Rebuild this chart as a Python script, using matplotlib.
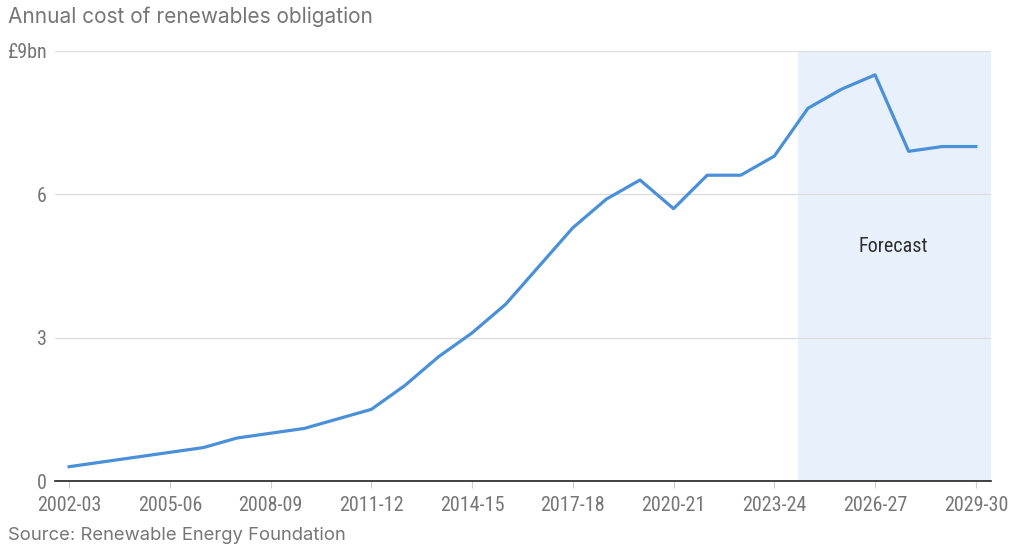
import matplotlib.pyplot as plt

years = ["2002-03", "2003-04", "2004-05", "2005-06", "2006-07", "2007-08", "2008-09",
         "2009-10", "2010-11", "2011-12", "2012-13", "2013-14", "2014-15", "2015-16",
         "2016-17", "2017-18", "2018-19", "2019-20", "2020-21", "2021-22", "2022-23",
         "2023-24", "2024-25", "2025-26", "2026-27", "2027-28", "2028-29", "2029-30"]
cost = [0.3, 0.4, 0.5, 0.6, 0.7, 0.9, 1.0, 1.1, 1.3, 1.5, 2.0, 2.6, 3.1, 3.7,
        4.5, 5.3, 5.9, 6.3, 5.7, 6.4, 6.4, 6.8, 7.8, 8.2, 8.5, 6.9, 7.0, 7.0]
yticks = [0, 3, 6, 9]
yticklabels = ["0", "3", "6", "£9bn"]
forecast_start = 21.7

narrow = ["Roboto Condensed", "DejaVu Sans"]
sans = ["Inter", "DejaVu Sans"]
grey = "#767676"

fig = plt.figure(figsize=(10.24, 5.59), dpi=100)
ax = fig.add_axes([0.0537, 0.1395, 0.914, 0.7693])
x = list(range(len(years)))

# forecast band
ax.axvspan(forecast_start, 27.45, color="#e8f1fb", zorder=0, lw=0)
ax.text(24.55, 4.9, "Forecast", family=narrow, fontsize=14.5, color="#2e2e2e",
        ha="center", va="center")

ax.plot(x, cost, color="#4a90d9", lw=2.3, zorder=3)

ax.set_xlim(-0.42, 27.45)
ax.set_ylim(0, 9)
ax.set_yticks(yticks)
ax.set_yticklabels(yticklabels)
ax.set_xticks(x[::3])
ax.set_xticklabels(years[::3])
ax.grid(axis="y", color="#dddddd", lw=1)
ax.set_axisbelow(True)
for s in ["top", "right", "left"]:
    ax.spines[s].set_visible(False)
ax.spines["bottom"].set_color("#222222")
ax.spines["bottom"].set_linewidth(1.2)
ax.tick_params(axis="y", length=0, pad=6, labelsize=14.5, labelcolor=grey)
ax.tick_params(axis="x", length=5, color="#cccccc", pad=6, labelsize=14.5, labelcolor=grey)
for lab in ax.get_xticklabels() + ax.get_yticklabels():
    lab.set_family(narrow)

fig.text(0.008, 0.97, "Annual cost of renewables obligation", fontsize=15,
         family=sans, color=grey, va="center", ha="left")
fig.text(0.008, 0.042, "Source: Renewable Energy Foundation", fontsize=13.3,
         family=sans, color=grey, va="center", ha="left")

fig.savefig("out.png", dpi=100)
